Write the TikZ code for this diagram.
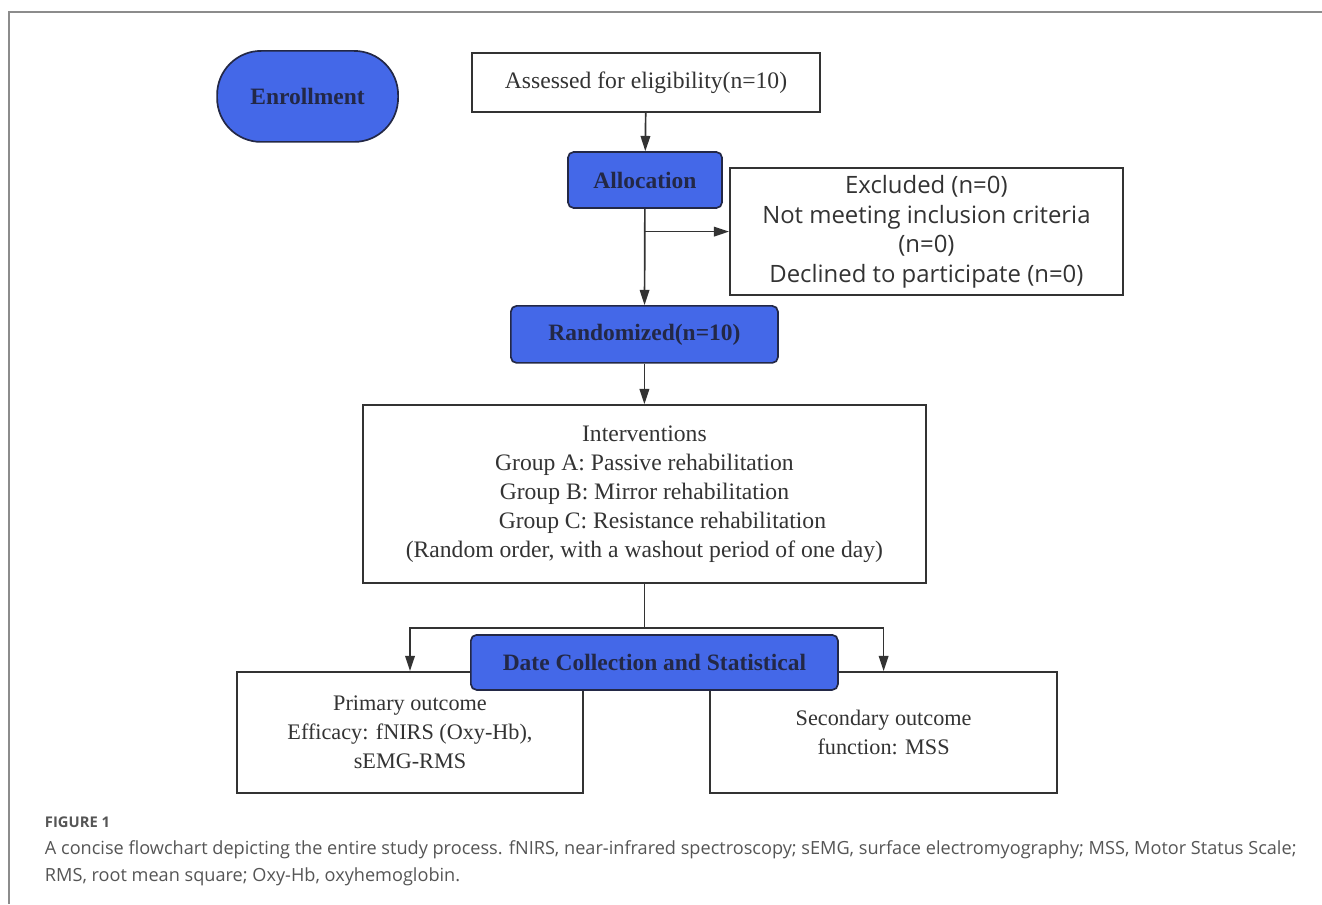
\documentclass[tikz,border=0pt]{standalone}
\usepackage{fontspec}
\setmainfont{Liberation Serif}
\newfontfamily\sansfont{Open Sans}
\usetikzlibrary{arrows.meta}

\definecolor{boxblue}{RGB}{68,104,232}
\definecolor{boxedge}{RGB}{35,40,70}
\definecolor{inkgray}{RGB}{51,51,51}
\definecolor{framegray}{RGB}{140,140,140}
\definecolor{capgray}{RGB}{85,85,85}

\tikzset{
  whitebox/.style={draw=inkgray, line width=1.2pt, fill=white, text=inkgray,
    align=center, inner sep=0pt, font=\fontsize{16.8}{20.6}\selectfont},
  bluebox/.style={draw=boxedge, line width=1.2pt, fill=boxblue, text=boxedge,
    rounded corners=4pt, inner sep=0pt, font=\fontsize{16.7}{20}\selectfont\bfseries},
  link/.style={draw=inkgray, line width=1.2pt},
  flow/.style={link, -{Triangle[length=3.8mm,width=2.4mm]}},
}

\begin{document}
\begin{tikzpicture}
    \useasboundingbox (0,0) rectangle (33.05,-22.6);
    % Khung ngoai
    \draw[framegray, line width=1pt] (33.05,-0.3) -- (0.225,-0.3) -- (0.225,-22.6);

    % Cac khoi chinh
    \node[bluebox, rounded corners=1.1cm, minimum width=4.525cm, minimum height=2.275cm]
        (enroll) at (7.69,-2.41) {Enrollment};
    \node[whitebox, minimum width=8.7cm, minimum height=1.475cm]
        (assess) at (16.15,-2.06) {Assessed for eligibility(n=10)};
    \node[bluebox, minimum width=3.85cm, minimum height=1.4cm]
        (alloc) at (16.125,-4.5) {Allocation};
    \node[whitebox, minimum width=9.825cm, minimum height=3.175cm,
          font=\sansfont\fontsize{17}{21}\selectfont]
        (excl) at (23.16,-5.79) {Excluded (n=0)\\ Not meeting inclusion criteria\\ (n=0)\\ Declined to participate (n=0)};
    \node[bluebox, minimum width=6.675cm, minimum height=1.425cm]
        (random) at (16.11,-8.36) {Randomized(n=10)};
    \node[whitebox, minimum width=14.075cm, minimum height=4.45cm]
        (interv) at (16.11,-12.35) {Interventions\\ Group A: Passive rehabilitation\\
        Group B: Mirror rehabilitation\\ \hspace*{0.9cm}Group C: Resistance rehabilitation\\
        (Random order, with a washout period of one day)};

    % Ket qua
    \node[whitebox, minimum width=8.65cm, minimum height=3.025cm, font=\fontsize{15.8}{20.6}\selectfont]
        (primary) at (10.25,-18.31) {Primary outcome\\ Efficacy: fNIRS (Oxy-Hb),\\ sEMG-RMS};
    \node[whitebox, minimum width=8.675cm, minimum height=3.025cm, font=\fontsize{15.8}{20.6}\selectfont]
        (secondary) at (22.09,-18.31) {Secondary outcome\\ function: MSS};
    \node[bluebox, minimum width=9.175cm, minimum height=1.375cm]
        (datacoll) at (16.36,-16.56) {Date Collection and Statistical};

    % Mui ten
    \draw[flow] (assess) -- (alloc);
    \draw[flow] (alloc) -- (random);
    \draw[flow] (alloc.south |- excl.west) -- (excl.west);
    \draw[flow] (random) -- (interv);
    \coordinate (split) at (16.11,-15.7);
    \draw[link] (interv.south) -- (split);
    \draw[flow] (split) -| (primary.north);
    \draw[flow] (split) -| (secondary.north);

    % Chu thich
    \node[anchor=west, text=capgray, font=\sansfont\bfseries\fontsize{10.5}{12}\selectfont]
        (figlabel) at (1.0,-20.55) {FIGURE 1};
    \node[anchor=west, align=left, text=capgray, font=\sansfont\fontsize{12.9}{19.2}\selectfont]
        (caption) at (1.0,-21.59) {A concise flowchart depicting the entire study process. fNIRS, near-infrared spectroscopy; sEMG, surface electromyography; MSS, Motor Status Scale;\\
        RMS, root mean square; Oxy-Hb, oxyhemoglobin.};
\end{tikzpicture}
\end{document}
